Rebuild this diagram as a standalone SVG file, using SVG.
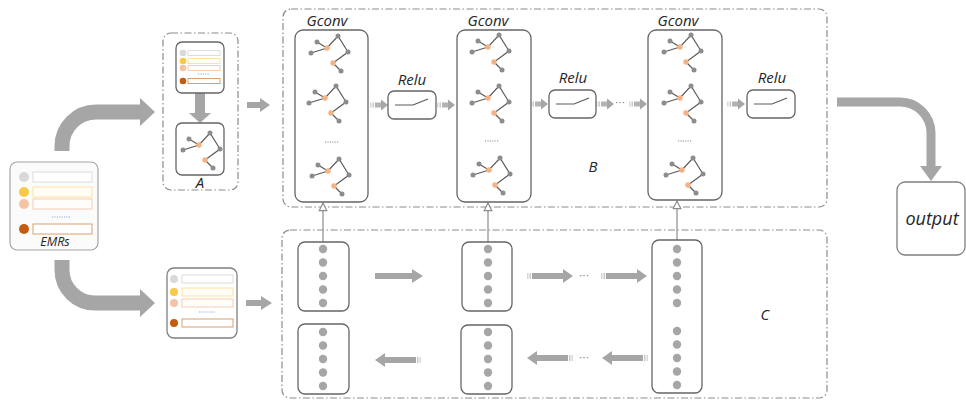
<svg xmlns="http://www.w3.org/2000/svg" width="966" height="403" viewBox="0 0 966 403">
  <style>
    .frame { fill: none; stroke: #8c8c8c; stroke-width: 1.2; stroke-dasharray: 7 2.5 1.5 2.5; }
    .box { fill: #ffffff; stroke: #666666; stroke-width: 1.3; }
    .doc { fill: #fbfbfb; stroke: #a6a6a6; stroke-width: 1.2; }
    .lbl { font-family: "Open Sans", "Liberation Sans", sans-serif; font-style: italic; fill: #262626; text-anchor: middle; }
    .edge { fill: none; stroke: #5a5a5a; stroke-width: 1.2; }
    .gn { fill: #8c8c8c; }
    .on { fill: #f4b183; }
    .dot { fill: #a6a6a6; }
    .fat { fill: none; stroke: #a6a6a6; }
    .head { fill: #a6a6a6; }
    .link { fill: none; stroke: #8c8c8c; stroke-width: 1.2; }
    .ell { font-family: "Liberation Sans", sans-serif; font-size: 10px; fill: #666666; text-anchor: middle; }
    .bar0 { fill: #ffffff; stroke: #dcdcdc; }
    .bar1 { fill: #fffdf5; stroke: #fbe3a0; }
    .bar2 { fill: #fffdfb; stroke: #f6cdb3; }
    .bar3 { fill: #ffffff; stroke: #d9a070; }
    .c0 { fill: #d9d9d9; }
    .c1 { fill: #f7c948; }
    .c2 { fill: #f4c3a4; }
    .c3 { fill: #c55a11; }
    .blue { stroke: #8faadc; stroke-width: 1.2; stroke-dasharray: 1.2 1.2; }
    .gdots { stroke: #8c8c8c; stroke-width: 1.2; stroke-dasharray: 1.2 1.2; }
  </style>
  <defs>
    <!-- small graph glyph, origin at the orange hub -->
    <g id="graph">
      <path class="edge" d="M-16,5 L0,0 M-10,-6 L0,0 L11,-12 L21,4 L6,15 L14,23"/>
      <circle class="gn" cx="-16" cy="5" r="2.5"/>
      <circle class="gn" cx="-10" cy="-6" r="2.5"/>
      <circle class="gn" cx="11" cy="-12" r="2.5"/>
      <circle class="gn" cx="21" cy="4" r="2.5"/>
      <circle class="gn" cx="14" cy="23" r="2.5"/>
      <circle class="on" cx="0" cy="0" r="2.7"/>
      <circle class="on" cx="6" cy="15" r="2.7"/>
    </g>
    <!-- column of five state dots -->
    <g id="dots5">
      <circle class="dot" cx="0" cy="0" r="4.2"/>
      <circle class="dot" cx="0" cy="13.5" r="4.2"/>
      <circle class="dot" cx="0" cy="27" r="4.2"/>
      <circle class="dot" cx="0" cy="40.5" r="4.2"/>
      <circle class="dot" cx="0" cy="54" r="4.2"/>
    </g>
    <!-- short arrow with striped tail, tip at the origin, pointing right -->
    <g id="sarrow">
      <rect x="-18" y="-2.5" width="1.5" height="5" fill="#a6a6a6" opacity="0.45"/>
      <rect x="-15.5" y="-2.5" width="1.5" height="5" fill="#a6a6a6" opacity="0.6"/>
      <rect x="-13" y="-2.5" width="6" height="5" fill="#a6a6a6" opacity="0.85"/>
      <polygon points="-7,-5.5 0,0 -7,5.5" fill="#a6a6a6"/>
    </g>
    <!-- long arrow with striped tail, tip at the origin, pointing right -->
    <g id="larrow">
      <rect x="-46" y="-3" width="1.5" height="6" fill="#a6a6a6" opacity="0.45"/>
      <rect x="-43.5" y="-3" width="1.5" height="6" fill="#a6a6a6" opacity="0.6"/>
      <rect x="-41" y="-3" width="32" height="6" fill="#a6a6a6"/>
      <polygon points="-10,-7 0,0 -10,7" fill="#a6a6a6"/>
    </g>
    <marker id="tri" viewBox="0 0 10 10" refX="9" refY="5" markerWidth="8" markerHeight="8" orient="auto">
      <path d="M1,1 L9,5 L1,9 Z" fill="#ffffff" stroke="#8c8c8c" stroke-width="1.2"/>
    </marker>
  </defs>

  <!-- grouping frames -->
  <g id="frames">
    <rect class="frame" x="163" y="33" width="75" height="157" rx="8"/>
    <rect class="frame" x="283" y="9" width="544" height="198" rx="8"/>
    <rect class="frame" x="282" y="230" width="545" height="168" rx="8"/>
  </g>

  <!-- connectors -->
  <g id="connectors">
    <!-- EMRs to graph builder and to sequence input -->
    <path class="fat" stroke-width="15" d="M62,151 V146 A34,34 0 0 1 96,112 H141"/>
    <polygon class="head" points="140,98 155,112 140,126"/>
    <path class="fat" stroke-width="15" d="M62,260 V270 A33,33 0 0 0 95,303 H141"/>
    <polygon class="head" points="140,289 155,303 140,317"/>
    <!-- inside A -->
    <rect class="head" x="195" y="93" width="10" height="21"/>
    <polygon class="head" points="189,113 211,113 200,123"/>
    <!-- A to B, record to C -->
    <rect class="head" x="247" y="102" width="14" height="6"/>
    <polygon class="head" points="260,98 270,105 260,112"/>
    <rect class="head" x="246" y="300" width="16" height="6"/>
    <polygon class="head" points="261,296 272,303 261,310"/>
    <!-- B pipeline -->
    <use href="#sarrow" x="388" y="105"/>
    <use href="#sarrow" x="455" y="105"/>
    <use href="#sarrow" x="548" y="104"/>
    <use href="#sarrow" x="614" y="104"/>
    <text class="ell" x="620" y="106">···</text>
    <use href="#sarrow" x="647" y="104"/>
    <use href="#sarrow" x="745" y="104"/>
    <!-- C recurrence -->
    <rect class="head" x="375" y="273" width="38" height="6"/>
    <polygon class="head" points="412,269 423,276 412,283"/>
    <use href="#larrow" x="573" y="276"/>
    <text class="ell" x="584" y="279">···</text>
    <use href="#larrow" x="647" y="276"/>
    <use href="#larrow" transform="translate(375,360) scale(-1,1)"/>
    <use href="#larrow" transform="translate(527,358) scale(-1,1)"/>
    <text class="ell" x="584" y="361">···</text>
    <use href="#larrow" transform="translate(602,358) scale(-1,1)"/>
    <!-- C to B links -->
    <line class="link" x1="323" y1="242" x2="323" y2="203" marker-end="url(#tri)"/>
    <line class="link" x1="488" y1="242" x2="488" y2="203" marker-end="url(#tri)"/>
    <line class="link" x1="677" y1="240" x2="677" y2="201" marker-end="url(#tri)"/>
    <!-- B to output -->
    <path class="fat" stroke-width="9" d="M837,102 H900 A31,31 0 0 1 931,133 V168"/>
    <polygon class="head" points="920,166 942,166 931,181"/>
  </g>

  <!-- EMRs record -->
  <g id="emrs">
    <rect class="doc" x="10" y="162" width="88" height="88" rx="7"/>
    <circle class="c0" cx="24" cy="177" r="5"/>
    <circle class="c1" cx="24" cy="192" r="5"/>
    <circle class="c2" cx="24" cy="204" r="5"/>
    <circle class="c3" cx="24" cy="229" r="5"/>
    <rect class="bar0" x="33" y="172" width="59" height="10"/>
    <rect class="bar1" x="33" y="187" width="59" height="10"/>
    <rect class="bar2" x="33" y="199" width="59" height="10"/>
    <line class="blue" x1="52" y1="217" x2="70" y2="217"/>
    <rect class="bar3" x="33" y="224" width="59" height="10"/>
    <text class="lbl" x="55" y="246" font-size="12.5">EMRs</text>
  </g>

  <!-- A: record to graph -->
  <g id="nodeA">
    <rect class="box" x="176" y="42" width="48" height="51" rx="6"/>
    <circle class="c0" cx="183" cy="53" r="3.3"/>
    <circle class="c1" cx="183" cy="61" r="3.3"/>
    <circle class="c2" cx="183" cy="68" r="3.3"/>
    <circle class="c3" cx="183" cy="81" r="3.3"/>
    <rect class="bar0" x="188" y="50.5" width="32" height="5"/>
    <rect class="bar1" x="188" y="58.5" width="32" height="5"/>
    <rect class="bar2" x="188" y="65.5" width="32" height="5"/>
    <line class="blue" x1="198" y1="74" x2="210" y2="74"/>
    <rect class="bar3" x="188" y="78.5" width="32" height="5"/>
    <rect class="box" x="176" y="123" width="48" height="52" rx="6"/>
    <use href="#graph" x="199" y="145"/>
    <text class="lbl" x="200" y="188" font-size="15">A</text>
  </g>

  <!-- B: graph convolution stack -->
  <g id="gconv1">
    <rect class="box" x="295" y="30" width="73" height="172" rx="8"/>
    <use href="#graph" x="327" y="48"/>
    <use href="#graph" x="325" y="98"/>
    <line class="gdots" x1="325" y1="142" x2="339" y2="142"/>
    <use href="#graph" x="328" y="171"/>
    <text class="lbl" x="327" y="26" font-size="15">Gconv</text>
  </g>
  <g id="relu1">
    <rect class="box" x="388" y="91" width="48" height="28" rx="6"/>
    <path class="edge" d="M395,105 H413 L428,99"/>
    <text class="lbl" x="412" y="85" font-size="15">Relu</text>
  </g>
  <g id="gconv2">
    <rect class="box" x="457" y="30" width="74" height="172" rx="8"/>
    <use href="#graph" x="488" y="47"/>
    <use href="#graph" x="488" y="98"/>
    <line class="gdots" x1="485" y1="141" x2="499" y2="141"/>
    <use href="#graph" x="489" y="170"/>
    <text class="lbl" x="488" y="26" font-size="15">Gconv</text>
  </g>
  <g id="relu2">
    <rect class="box" x="549" y="90" width="47" height="28" rx="6"/>
    <path class="edge" d="M556,104 H574 L589,98"/>
    <text class="lbl" x="573" y="83" font-size="15">Relu</text>
  </g>
  <g id="gconv3">
    <rect class="box" x="648" y="30" width="74" height="170" rx="8"/>
    <use href="#graph" x="680" y="47"/>
    <use href="#graph" x="680" y="98"/>
    <line class="gdots" x1="678" y1="141" x2="692" y2="141"/>
    <use href="#graph" x="682" y="170"/>
    <text class="lbl" x="678" y="26" font-size="15">Gconv</text>
  </g>
  <g id="relu3">
    <rect class="box" x="747" y="90" width="48" height="28" rx="6"/>
    <path class="edge" d="M754,104 H772 L787,98"/>
    <text class="lbl" x="772" y="83" font-size="15">Relu</text>
  </g>
  <text class="lbl" x="593" y="172" font-size="15">B</text>

  <!-- sequence input record -->
  <g id="record">
    <rect class="box" x="167" y="268" width="70" height="70" rx="7" style="stroke:#7f7f7f"/>
    <circle class="c0" cx="174" cy="279" r="4"/>
    <circle class="c1" cx="174" cy="292" r="4"/>
    <circle class="c2" cx="174" cy="303" r="4"/>
    <circle class="c3" cx="174" cy="323" r="4"/>
    <rect class="bar0" x="182" y="275" width="51" height="8"/>
    <rect class="bar1" x="182" y="288" width="51" height="8"/>
    <rect class="bar2" x="182" y="299" width="51" height="8"/>
    <line class="blue" x1="199" y1="312" x2="215" y2="312"/>
    <rect class="bar3" x="182" y="319" width="51" height="8"/>
  </g>

  <!-- C: recurrent states -->
  <g id="seq1f">
    <rect class="box" x="298" y="242" width="51" height="69" rx="7"/>
    <use href="#dots5" x="323" y="249"/>
  </g>
  <g id="seq1b">
    <rect class="box" x="298" y="324" width="51" height="70" rx="7"/>
    <use href="#dots5" x="323" y="332"/>
  </g>
  <g id="seq2f">
    <rect class="box" x="462" y="242" width="50" height="69" rx="7"/>
    <use href="#dots5" x="488" y="249"/>
  </g>
  <g id="seq2b">
    <rect class="box" x="461" y="325" width="51" height="69" rx="7"/>
    <use href="#dots5" x="488" y="332"/>
  </g>
  <g id="seq3">
    <rect class="box" x="652" y="240" width="50" height="153" rx="7"/>
    <use href="#dots5" x="677" y="249"/>
    <use href="#dots5" x="677" y="331"/>
  </g>
  <text class="lbl" x="765" y="320" font-size="15">C</text>

  <!-- output -->
  <g id="output">
    <rect class="box" x="897" y="182" width="68" height="73" rx="8" style="stroke:#7f7f7f"/>
    <text class="lbl" x="932" y="225" font-size="18">output</text>
  </g>
</svg>
